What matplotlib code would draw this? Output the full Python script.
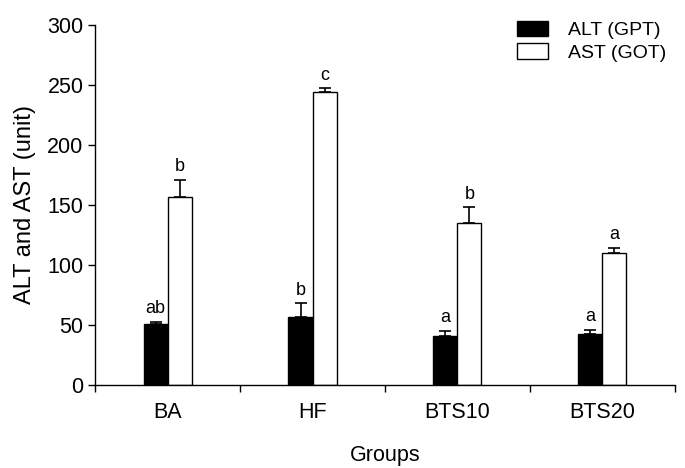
import matplotlib
matplotlib.use("Agg")
import matplotlib.pyplot as plt
import numpy as np

plt.rcParams['font.family'] = ['Liberation Sans', 'DejaVu Sans']

groups = ['BA', 'HF', 'BTS10', 'BTS20']
alt = [51, 57, 41, 43]          # ALT (GPT)
alt_err = [2, 11, 4, 3]
ast = [157, 244, 135, 110]      # AST (GOT)
ast_err = [14, 3, 13, 4]
alt_letters = ['ab', 'b', 'a', 'a']
ast_letters = ['b', 'c', 'b', 'a']

fig = plt.figure(figsize=(6.85, 4.68), dpi=100)
ax = fig.add_axes([0.139, 0.177, 0.846, 0.77])

x = np.arange(len(groups))
w = 0.166
ax.bar(x - w/2, alt, w, color='black', edgecolor='black', linewidth=1, label='ALT (GPT)')
ax.bar(x + w/2, ast, w, color='white', edgecolor='black', linewidth=1, label='AST (GOT)')
ax.errorbar(x - w/2, alt, yerr=[np.zeros(4), alt_err], fmt='none', ecolor='black',
            elinewidth=1.2, capsize=4.5, capthick=1.2)
ax.errorbar(x + w/2, ast, yerr=[np.zeros(4), ast_err], fmt='none', ecolor='black',
            elinewidth=1.2, capsize=4.5, capthick=1.2)

for i in range(len(groups)):
    ax.text(x[i] - w/2, alt[i] + alt_err[i] + 4, alt_letters[i], ha='center', va='bottom', fontsize=13)
    ax.text(x[i] + w/2, ast[i] + ast_err[i] + 4, ast_letters[i], ha='center', va='bottom', fontsize=13)

ax.set_xlim(-0.5, 3.5)
ax.set_ylim(0, 300)
ax.set_yticks(range(0, 301, 50))
ax.set_xticks(x)
ax.set_xticklabels(groups)
ax.set_xticks(np.arange(-0.5, 3.6, 1), minor=True)
ax.tick_params(axis='x', which='major', length=0, labelsize=15.5, pad=12)
ax.tick_params(axis='x', which='minor', length=5, width=1)
ax.tick_params(axis='y', length=5, width=1, labelsize=15.5)
for s in ['top', 'right']:
    ax.spines[s].set_visible(False)
for s in ['left', 'bottom']:
    ax.spines[s].set_linewidth(1)

ax.set_xlabel('Groups', fontsize=15.5, labelpad=16)
ax.set_ylabel('ALT and AST (unit)', fontsize=17, labelpad=8)

ax.legend(loc='upper right', bbox_to_anchor=(1.015, 1.06), frameon=False, fontsize=14,
          handlelength=1.6, handleheight=0.85, handletextpad=1.0, labelspacing=0.2)

fig.savefig('out.png', dpi=100)
